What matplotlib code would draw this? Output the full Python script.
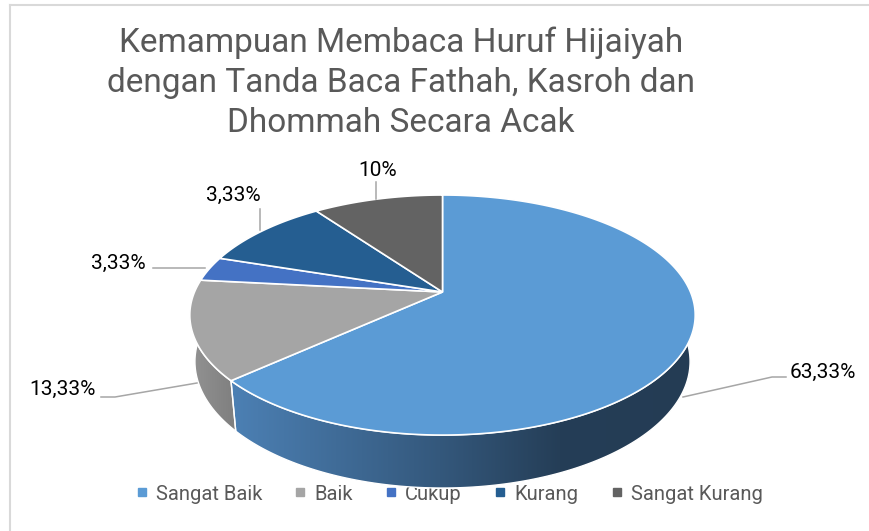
import numpy as np
import matplotlib
matplotlib.use("Agg")
import matplotlib.pyplot as plt
from matplotlib.patches import Polygon
from matplotlib.lines import Line2D

# data
kategori = ["Sangat Baik", "Baik", "Cukup", "Kurang", "Sangat Kurang"]
nilai = [63.33, 13.33, 3.33, 10.0, 10.0]
label_persen = ["63,33%", "13,33%", "3,33%", "3,33%", "10%"]
warna = ["#5B9BD5", "#A5A5A5", "#4472C4", "#255E91", "#636363"]

judul = "Kemampuan Membaca Huruf Hijaiyah\ndengan Tanda Baca Fathah, Kasroh dan\nDhommah Secara Acak"

# gradasi sisi samping (x piksel, warna rgb)
gradasi_sisi = {
    0: [(232, (76, 128, 180)), (440, (52, 88, 124)), (560, (37, 62, 87)), (700, (36, 60, 84))],
    1: [(188, (148, 148, 148)), (232, (128, 128, 128))],
}

# posisi label + garis penunjuk (piksel)
posisi_label = [(823, 372), (63, 389), (118, 263), (233, 195), (378, 170)]
garis_label = [
    [(683, 397), (772, 377), (786, 377)],
    [(197, 383), (115, 397), (101, 397)],
    [(205, 268), (153, 268)],
    [(260, 230), (260, 209)],
    [(376, 199), (376, 182)],
]

plt.rcParams['font.family'] = ['Roboto', 'DejaVu Sans']

W, H = 870, 531
fig = plt.figure(figsize=(W / 100, H / 100), dpi=100)
ax = fig.add_axes([0, 0, 1, 1])
ax.set_xlim(0, W)
ax.set_ylim(H, 0)
ax.axis("off")

# geometri pie 3D
cx, cy = 442.5, 292
rx, ry = 248, 115.6
persp = 0.192
tebal = 46.7
q = 0.02


def titik(t, bawah=False):
    u, v = np.cos(t), np.sin(t)
    w = 1 + persp * v
    if bawah:
        w = w + q
        return cx + rx * u / w, cy + (-ry * v + tebal) / w
    return cx + rx * u / w, cy - ry * v / w


total = sum(nilai)
kum = np.concatenate([[0], np.cumsum(nilai)])
sudut = np.deg2rad(90 - 360 * kum / total)

# sisi samping
for i in range(len(nilai)):
    ts = np.linspace(sudut[i], sudut[i + 1], 400)
    ts = ts[np.sin(ts) < 0.05]
    if len(ts) < 2:
        continue
    xa, ya = titik(ts)
    xb, yb = titik(ts[::-1], bawah=True)
    pts = np.column_stack([np.concatenate([xa, xb]), np.concatenate([ya, yb])])
    poly = Polygon(pts, closed=True, facecolor="none", edgecolor="white", lw=1.0, zorder=4)
    ax.add_patch(poly)
    stops = gradasi_sisi.get(i)
    if stops:
        xs = np.linspace(0, W, W)
        kol = np.zeros((1, W, 3))
        for c in range(3):
            kol[0, :, c] = np.interp(xs, [s[0] for s in stops], [s[1][c] for s in stops]) / 255
        im = ax.imshow(kol, extent=(0, W, H, 0), aspect="auto", zorder=3, interpolation="bilinear")
        im.set_clip_path(poly)
    else:
        poly.set_facecolor(warna[i])

# permukaan atas
for i in range(len(nilai)):
    ts = np.linspace(sudut[i], sudut[i + 1], 400)
    xa, ya = titik(ts)
    pts = np.column_stack([np.concatenate([[cx], xa]), np.concatenate([[cy], ya])])
    ax.add_patch(Polygon(pts, closed=True, facecolor=warna[i], edgecolor="white", lw=1.2, zorder=5))

# label data
for teks, (x, y), garis in zip(label_persen, posisi_label, garis_label):
    g = np.array(garis)
    ax.plot(g[:, 0], g[:, 1], color="#A6A6A6", lw=1.1, zorder=6)
    ax.text(x, y, teks, ha="center", va="center", fontsize=15, color="#000000", zorder=7)

# judul
ax.text(401, 83, judul, ha="center", va="center", fontsize=24, color="#595959",
        linespacing=1.33, zorder=7)

# legenda
handles = [Line2D([], [], marker="s", ls="none", color=c, markersize=6) for c in warna]
leg = ax.legend(handles, kategori, loc="center", bbox_to_anchor=(449 / W, 1 - 494 / H),
                ncol=5, frameon=False, fontsize=14.5, handlelength=0.6, handletextpad=0.4,
                columnspacing=1.6, labelcolor="#595959", borderpad=0)
leg.set_zorder(1)

# bingkai
ax.plot([10, 10], [H, 5], color="#D9D9D9", lw=1.5, zorder=0)
ax.plot([10, W], [5, 5], color="#D9D9D9", lw=1.5, zorder=0)

fig.savefig("out.png", dpi=100, facecolor="white")
